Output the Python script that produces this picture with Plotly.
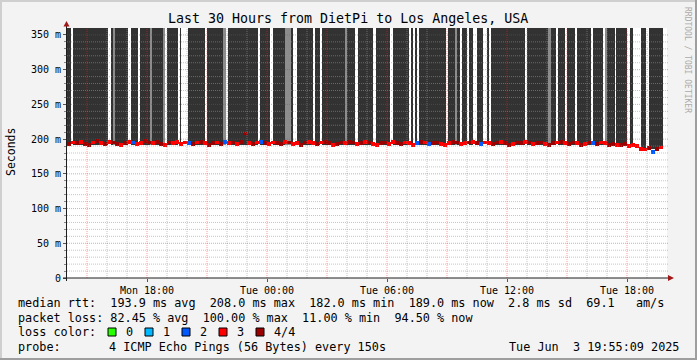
import plotly.graph_objects as go
from datetime import datetime, timedelta

# ---------------- data ----------------
T_START = datetime(2025, 6, 2, 14, 0)
T_END = datetime(2025, 6, 3, 20, 0)
COL_MIN = 12  # minutes per median column

# median rtt in ms, one value per 12-minute column from Mon 14:00
MEDIAN_MS = [
    193, 195, 194, 196, 193, 192, 195, 197, 194, 193, 196,
    195, 193, 192, 194, 196, 195, 193, 194, 197, 195,
    194, 196, 193, 192, 195, 194, 196, 193, 195, 194,
    193, 195, 196, 194, 192, 194, 195, 193, 196, 194,
    195, 193, 196, 208, 194, 193, 195, 196, 194, 193,
    195, 194, 193, 196, 195, 193, 194, 192, 195, 196,
    194, 193, 195, 196, 194, 192, 193, 195, 194, 196,
    195, 193, 194, 196, 195, 193, 192, 194, 195, 193,
    196, 194, 193, 195, 194, 192, 194, 196, 195, 193,
    194, 195, 193, 192, 194, 196, 195, 193, 194, 195,
    196, 194, 193, 195, 194, 193, 195, 196, 194, 192,
    193, 195, 194, 196, 195, 193, 194, 195, 193, 192,
    194, 195, 196, 194, 193, 195, 194, 192, 193, 195,
    194, 193, 195, 194, 192, 193, 191, 192, 193, 190,
    191, 190, 186, 185, 187, 182, 186, 188,
]
# lost pings per column (4 = 4/4)
LOSS = [
    4, 3, 4, 3, 4, 4, 3, 4, 3, 4, 3,
    4, 4, 3, 4, 3, 2, 3, 3, 4, 4,
    3, 4, 4, 3, 4, 3, 3, 3, 3, 2,
    4, 3, 4, 3, 4, 4, 3, 4, 2, 3,
    4, 3, 4, 4, 3, 4, 3, 2, 4, 3,
    3, 4, 4, 3, 4, 3, 3, 4, 4, 3,
    3, 4, 3, 4, 4, 3, 4, 4, 3, 4,
    4, 3, 4, 3, 4, 3, 3, 4, 4, 3,
    3, 4, 4, 3, 3, 3, 2, 4, 3, 2,
    4, 4, 3, 3, 3, 4, 4, 3, 3, 4,
    3, 4, 2, 3, 3, 4, 4, 3, 4, 4,
    3, 4, 4, 3, 4, 3, 4, 4, 3, 4,
    4, 3, 4, 3, 4, 4, 3, 4, 3, 4,
    2, 4, 3, 3, 4, 4, 3, 4, 4, 3,
    3, 3, 3, 3, 4, 2, 4, 3,
]
LOSS_COLORS = {0: '#26ff00', 1: '#00b8ff', 2: '#0059ff', 3: '#ff0000', 4: '#9a0000'}

# smoke bands: minutes from Mon 14:00
SMOKE_START_MIN = [0, 17, 132, 137, 144, 191, 219, 249, 254, 289, 301, 339, 364, 419, 467,
                   484, 579, 617, 654, 671, 689, 744, 764, 834, 839, 874, 927, 979, 1034,
                   1044, 1056, 1144, 1164, 1169, 1184, 1207, 1231, 1259, 1271, 1379, 1444,
                   1451, 1474, 1499, 1529, 1577, 1616, 1621, 1647, 1689, 1722, 1745]
SMOKE_END_MIN = [12, 124, 137, 144, 184, 212, 249, 254, 289, 294, 334, 342, 414, 467, 477,
                 574, 609, 654, 671, 679, 739, 759, 834, 839, 864, 919, 969, 1027, 1039,
                 1049, 1137, 1164, 1169, 1179, 1199, 1219, 1249, 1267, 1374, 1444, 1451,
                 1467, 1494, 1524, 1571, 1608, 1621, 1644, 1681, 1697, 1737, 1789]
SMOKE_SHADE = ['d', 'd', 'd', 'g', 'd', 'd', 'd', 'g', 'd', 'g', 'd', 'd', 'd', 'd', 'g',
               'd', 'd', 'd', 'g', 'd', 'd', 'd', 'd', 'g', 'd', 'd', 'd', 'd', 'd',
               'd', 'd', 'd', 'g', 'd', 'd', 'd', 'd', 'd', 'd', 'd', 'g',
               'd', 'd', 'd', 'd', 'd', 'g', 'd', 'd', 'd', 'd', 'd']
SMOKE_BASE_MS = [192] * 49 + [189, 186, 186]
SHADE_COLORS = {'d': '#323232', 'g': '#8c8c8c'}

Y_MAX = 360
Y_TICKS = [0, 50, 100, 150, 200, 250, 300, 350]
Y_LABELS = ['0', '50 m', '100 m', '150 m', '200 m', '250 m', '300 m', '350 m']
X_TICKS = [datetime(2025, 6, 2, 18), datetime(2025, 6, 3, 0), datetime(2025, 6, 3, 6),
           datetime(2025, 6, 3, 12), datetime(2025, 6, 3, 18)]
X_LABELS = ['Mon 18:00', 'Tue 00:00', 'Tue 06:00', 'Tue 12:00', 'Tue 18:00']

TITLE = 'Last 30 Hours from DietPi to Los Angeles, USA'
LEGEND_RTT = 'median rtt:  193.9 ms avg  208.0 ms max  182.0 ms min  189.0 ms now  2.8 ms sd  69.1   am/s'
LEGEND_LOSS = 'packet loss: 82.45 % avg  100.00 % max  11.00 % min  94.50 % now'
LOSS_LEGEND_LABELS = ['0', '1', '2', '3', '4/4']
PROBE_TEXT = '4 ICMP Echo Pings (56 Bytes) every 150s'
DATE_TEXT = 'Tue Jun  3 19:55:09 2025'

# ---------------- layout helpers ----------------
W, H = 697, 360
L, R, T, B = 67, 30, 28, 82
PW, PH = W - L - R, H - T - B
MONO = 'DejaVu Sans Mono'


def px(x):
    return (x - L) / PW


def py(y):
    return (H - B - y) / PH


def nb(s):
    return s.replace(' ', '\u00a0')


fig = go.Figure()

# smoke
sx, sw, sb, sy, sc = [], [], [], [], []
for s, e, shade, base in zip(SMOKE_START_MIN, SMOKE_END_MIN, SMOKE_SHADE, SMOKE_BASE_MS):
    sx.append(T_START + timedelta(minutes=(s + e) / 2))
    sw.append((e - s) * 60000)
    sb.append(base)
    sy.append(Y_MAX - base)
    sc.append(SHADE_COLORS[shade])
fig.add_trace(go.Bar(x=sx, y=sy, base=sb, width=sw,
                     marker=dict(color=sc, line=dict(width=0)), hoverinfo='skip'))

# median line coloured by loss
LINE_H = 5.5
mx = [T_START + timedelta(minutes=COL_MIN * i + COL_MIN / 2) for i in range(len(MEDIAN_MS))]
fig.add_trace(go.Bar(x=mx, y=[LINE_H] * len(MEDIAN_MS),
                     base=[m - LINE_H / 2 for m in MEDIAN_MS],
                     width=[COL_MIN * 60000] * len(MEDIAN_MS),
                     marker=dict(color=[LOSS_COLORS[l] for l in LOSS], line=dict(width=0)),
                     hoverinfo='skip'))

shapes = []
# grid on top (like rrdtool)
minor_col = 'rgba(150,150,150,0.55)'
major_col = 'rgba(255,30,30,0.45)'
t = T_START + timedelta(hours=1)
while t < T_END:
    major = (t.hour % 3 == 0)
    shapes.append(dict(type='line', xref='x', yref='paper', x0=t, x1=t, y0=0, y1=1,
                       line=dict(color=major_col if major else minor_col, width=1, dash='1px,1px'),
                       layer='above'))
    t += timedelta(hours=1)
for v in range(10, Y_MAX, 10):
    major = (v % 50 == 0)
    shapes.append(dict(type='line', xref='paper', yref='y', x0=0, x1=px(668), y0=v, y1=v,
                       line=dict(color=major_col if major else minor_col, width=1, dash='1px,1px'),
                       layer='above'))

# axes lines and arrows
axis_col = '#1e1e1e'
arrow_col = '#a01818'
shapes.append(dict(type='line', xref='paper', yref='paper', x0=px(63), x1=px(670),
                   y0=py(278), y1=py(278), line=dict(color=axis_col, width=1), layer='above'))
shapes.append(dict(type='line', xref='paper', yref='paper', x0=px(66.5), x1=px(66.5),
                   y0=py(281), y1=py(25), line=dict(color=axis_col, width=1), layer='above'))
shapes.append(dict(type='path', xref='paper', yref='paper',
                   path=f'M {px(63.5)} {py(26.5)} L {px(69.5)} {py(26.5)} L {px(66.5)} {py(21)} Z',
                   fillcolor=arrow_col, line=dict(width=0), layer='above'))
shapes.append(dict(type='path', xref='paper', yref='paper',
                   path=f'M {px(668)} {py(275)} L {px(668)} {py(281)} L {px(674)} {py(278)} Z',
                   fillcolor=arrow_col, line=dict(width=0), layer='above'))

# frame of the image
shapes += [
    dict(type='rect', xref='paper', yref='paper', x0=px(0), x1=px(W), y0=py(0), y1=py(2),
         fillcolor='#CFCFCF', line=dict(width=0)),
    dict(type='rect', xref='paper', yref='paper', x0=px(0), x1=px(2), y0=py(0), y1=py(H),
         fillcolor='#CFCFCF', line=dict(width=0)),
    dict(type='rect', xref='paper', yref='paper', x0=px(W - 2), x1=px(W), y0=py(0), y1=py(H),
         fillcolor='#9E9E9E', line=dict(width=0)),
    dict(type='rect', xref='paper', yref='paper', x0=px(0), x1=px(W), y0=py(H - 2), y1=py(H),
         fillcolor='#9E9E9E', line=dict(width=0)),
]

# loss colour squares
sq_x = [108, 145, 182, 219, 256]
for x0, lvl in zip(sq_x, [0, 1, 2, 3, 4]):
    shapes.append(dict(type='rect', xref='paper', yref='paper', x0=px(x0), x1=px(x0 + 8),
                       y0=py(336), y1=py(328), fillcolor=LOSS_COLORS[lvl],
                       line=dict(color='black', width=1)))

ann = []


def text(x, y, s, size=11.8, anchor='left', color='#000000', angle=0):
    ann.append(dict(xref='paper', yref='paper', x=px(x), y=py(y), text=nb(s), showarrow=False,
                    xanchor=anchor, yanchor='middle', textangle=angle,
                    font=dict(family=MONO, size=size, color=color)))


text(348, 19, TITLE, size=13.3, anchor='center')
text(11, 152, 'Seconds', size=11.5, anchor='center', angle=-90)
text(688, 60, 'RRDTOOL / TOBI OETIKER', size=8, anchor='center', color='#ababab', angle=90)
text(16, 303, LEGEND_RTT)
text(16, 318, LEGEND_LOSS)
text(16, 332, 'loss color:')
for x0, lab in zip(sq_x, LOSS_LEGEND_LABELS):
    text(x0 + 16, 332, lab)
text(16, 347, 'probe:')
text(107, 347, PROBE_TEXT)
text(681, 347, DATE_TEXT, anchor='right')

fig.update_layout(
    width=W, height=H,
    margin=dict(l=L, r=R, t=T, b=B, pad=0),
    paper_bgcolor='#F3F3F3', plot_bgcolor='#FFFFFF',
    barmode='overlay', bargap=0, showlegend=False,
    shapes=shapes, annotations=ann, hovermode=False,
    xaxis=dict(type='date', range=[T_START, T_END], showgrid=False, zeroline=False,
               showline=False, tickmode='array', tickvals=X_TICKS, ticktext=X_LABELS,
               ticks='outside', ticklen=3, tickcolor='#555555',
               tickfont=dict(family=MONO, size=10, color='#000000')),
    yaxis=dict(range=[0, Y_MAX], showgrid=False, zeroline=False, showline=False,
               tickmode='array', tickvals=Y_TICKS, ticktext=Y_LABELS,
               ticks='outside', ticklen=3, tickcolor='#555555',
               minor=dict(tickmode='array', tickvals=list(range(10, Y_MAX, 10)),
                          ticks='outside', ticklen=2, tickcolor='#888888', showgrid=False),
               tickfont=dict(family=MONO, size=10, color='#000000')),
)

fig.write_html('out.html', config={'displayModeBar': False},
               post_script="document.body.style.margin='0';document.body.style.overflow='hidden';")
